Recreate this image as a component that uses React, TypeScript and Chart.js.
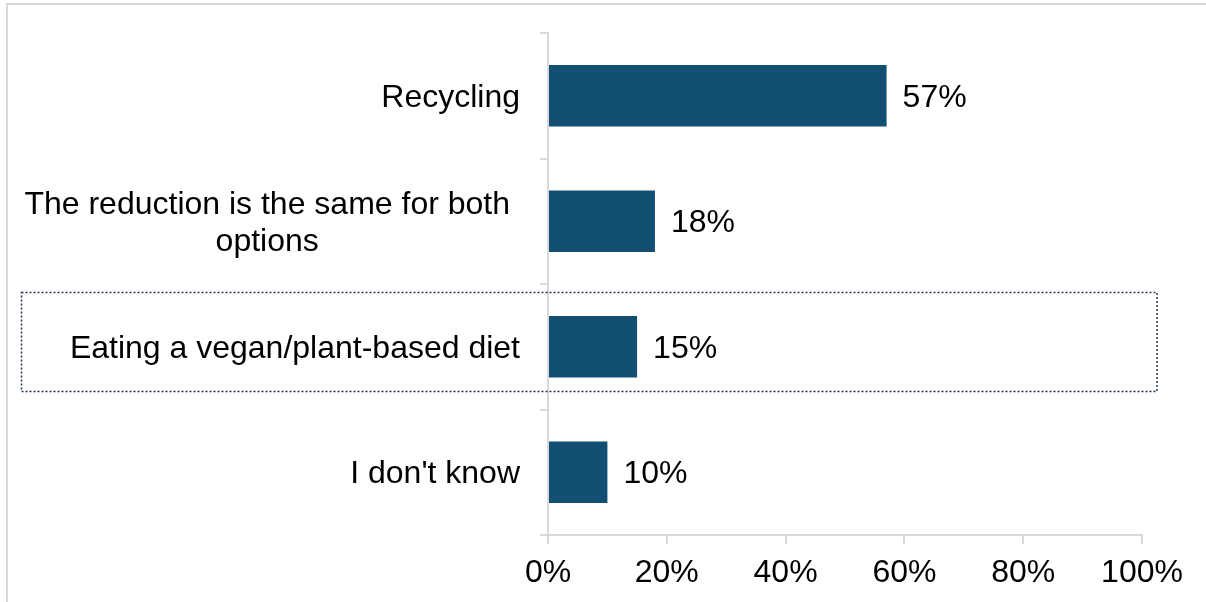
import React, { useEffect, useRef } from "react";
import { Chart, registerables } from "chart.js";

Chart.register(...registerables);

const categories: string[][] = [
  ["Recycling"],
  ["The reduction is the same for both", "options"],
  ["Eating a vegan/plant-based diet"],
  ["I don't know"],
];
const values: number[] = [57, 18, 15, 10];
const xTicks: number[] = [0, 20, 40, 60, 80, 100];
const highlightedIndex = 2;

const FONT = "'Liberation Sans', Arial, sans-serif";
const BAR_COLOR = "#134F72";
const AXIS_COLOR = "#D9D9D9";

export default function App() {
  const ref = useRef<HTMLCanvasElement | null>(null);

  useEffect(() => {
    if (!ref.current) return;
    const decor = {
      id: "decor",
      beforeDraw(chart: any) {
        const ctx = chart.ctx;
        ctx.save();
        ctx.strokeStyle = AXIS_COLOR;
        ctx.lineWidth = 2;
        ctx.beginPath();
        ctx.moveTo(7, chart.height);
        ctx.lineTo(7, 4);
        ctx.lineTo(chart.width, 4);
        ctx.stroke();
        ctx.restore();
      },
      afterDraw(chart: any) {
        const ctx = chart.ctx;
        const y = chart.scales.y;
        const area = chart.chartArea;
        const band = (area.bottom - area.top) / categories.length;
        const dy = 2;
        ctx.save();
        ctx.font = `32px ${FONT}`;
        ctx.fillStyle = "#000";
        ctx.textBaseline = "middle";
        const labelRight = area.left - 28;
        categories.forEach((lines, i) => {
          const cy = y.getPixelForValue(i) + dy;
          if (lines.length === 1) {
            ctx.textAlign = "right";
            ctx.fillText(lines[0], labelRight, cy);
          } else {
            const maxW = Math.max(...lines.map((l) => ctx.measureText(l).width));
            const cx = labelRight - 10 - maxW / 2;
            const lh = 37;
            ctx.textAlign = "center";
            lines.forEach((l, k) => {
              ctx.fillText(l, cx, cy + (k - (lines.length - 1) / 2) * lh);
            });
          }
        });
        // value labels
        const meta = chart.getDatasetMeta(0);
        ctx.textAlign = "left";
        meta.data.forEach((bar: any, i: number) => {
          ctx.fillText(values[i] + "%", bar.x + 16, bar.y + dy);
        });
        // dotted highlight box
        const hc = y.getPixelForValue(highlightedIndex);
        ctx.strokeStyle = "#24344F";
        ctx.lineWidth = 1.5;
        ctx.setLineDash([2, 2]);
        const top = Math.round(hc - band * 0.44) + 0.5;
        const bottom = Math.round(hc + band * 0.355) + 0.5;
        ctx.strokeRect(21.5, top, area.right + 15 - 21.5, bottom - top);
        ctx.restore();
      },
    };

    const chart = new Chart(ref.current, {
      type: "bar",
      data: {
        labels: categories.map((c) => c.join(" ")),
        datasets: [
          {
            data: values,
            backgroundColor: BAR_COLOR,
            categoryPercentage: 1,
            barPercentage: 0.49,
          },
        ],
      },
      options: {
        indexAxis: "y",
        animation: false,
        responsive: false,
        layout: { padding: { left: 540, top: 33, right: 64, bottom: 0 } },
        plugins: { legend: { display: false }, tooltip: { enabled: false } },
        scales: {
          x: {
            min: 0,
            max: 100,
            afterBuildTicks: (scale: any) => {
              scale.ticks = xTicks.map((v) => ({ value: v }));
            },
            afterFit: (scale: any) => {
              scale.height = 67;
            },
            grid: {
              drawOnChartArea: false,
              drawTicks: true,
              tickLength: 9,
              color: AXIS_COLOR,
              lineWidth: 2,
            },
            border: { display: true, color: AXIS_COLOR, width: 2 },
            ticks: {
              padding: 10,
              color: "#000",
              font: { family: FONT, size: 32 },
              callback: (v: any) => v + "%",
            },
          },
          y: {
            type: "category",
            afterFit: (scale: any) => {
              scale.width = 8;
            },
            grid: {
              offset: true,
              drawOnChartArea: false,
              drawTicks: true,
              tickLength: 8,
              color: AXIS_COLOR,
              lineWidth: 2,
            },
            border: { display: true, color: AXIS_COLOR, width: 2 },
            ticks: { display: false },
          },
        },
      },
      plugins: [decor],
    });
    return () => chart.destroy();
  }, []);

  return (
    <div style={{ position: "absolute", left: 0, top: 0, width: 1206, height: 602, background: "#fff" }}>
      <canvas ref={ref} width={1206} height={602} style={{ display: "block" }} />
    </div>
  );
}
